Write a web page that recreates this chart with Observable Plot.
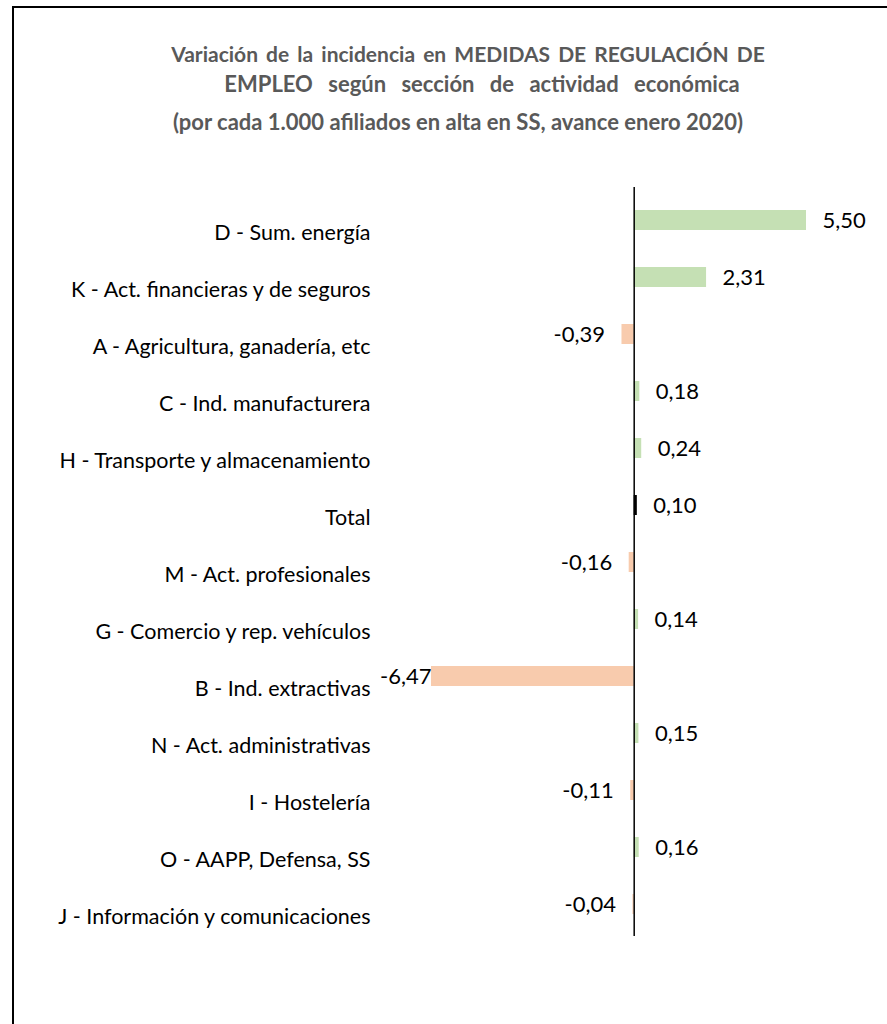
<!DOCTYPE html>
<html><head><meta charset="utf-8">
<script src="https://cdn.jsdelivr.net/npm/d3@7"></script>
<script src="https://cdn.jsdelivr.net/npm/@observablehq/plot@0.6"></script>
<style>
html,body{margin:0;padding:0;background:#fff;}
#wrap{position:relative;width:887px;height:1024px;overflow:hidden;font-family:Lato,"Open Sans",sans-serif;}
#frame{position:absolute;left:12px;top:6px;width:900px;height:1100px;border-left:2px solid #000;border-top:2px solid #000;}
#title{position:relative;height:150px;color:#595959;font-weight:bold;}
#title div{position:absolute;white-space:nowrap;transform:translate(-50%,-50%);line-height:1;}
#t1{left:468px;top:53px;font-size:21px;word-spacing:3px;}
#t2{left:482px;top:84px;font-size:22px;word-spacing:10px;}
#t3{left:458px;top:122px;font-size:22px;}
#chart{position:relative;}
</style></head>
<body><div id="wrap"><div id="frame"></div>
<div id="title"><div id="t1">Variación de la incidencia en MEDIDAS DE REGULACIÓN DE</div>
<div id="t2">EMPLEO según sección de actividad económica</div>
<div id="t3">(por cada 1.000 afiliados en alta en SS, avance enero 2020)</div></div>
<div id="chart"></div></div>
<script>
const categories = [
  "D - Sum. energía",
  "K - Act. financieras y de seguros",
  "A - Agricultura, ganadería, etc",
  "C - Ind. manufacturera",
  "H - Transporte y almacenamiento",
  "Total",
  "M - Act. profesionales",
  "G - Comercio y rep. vehículos",
  "B - Ind. extractivas",
  "N - Act. administrativas",
  "I - Hostelería",
  "O - AAPP, Defensa, SS",
  "J - Información y comunicaciones"
];
const values = [5.50, 2.31, -0.39, 0.18, 0.24, 0.10, -0.16, 0.14, -6.47, 0.15, -0.11, 0.16, -0.04];

const data = categories.map((c, i) => ({cat: c, value: values[i]}));
const fmt = v => v.toFixed(2).replace(".", ",");
const minV = d3.min(values), maxV = d3.max(values);
const fillOf = d => d.cat === "Total" ? "#000000" : d.value >= 0 ? "#C5E0B4" : "#F8CBAD";

const chart = Plot.plot({
  width: 887,
  height: 874,
  marginTop: 37,
  marginBottom: 88,
  marginLeft: 431,
  marginRight: 81,
  style: {fontFamily: "Lato, 'Open Sans', sans-serif", color: "#000", background: "transparent"},
  x: {domain: [minV, maxV], axis: null},
  y: {domain: categories, paddingInner: 0.65, paddingOuter: 0.35, label: null},
  marks: [
    Plot.barX(data, {y: "cat", x: "value", fill: fillOf, inset: 0}),
    Plot.ruleX([0], {stroke: "#000", strokeWidth: 1.5}),
    Plot.axisY({tickSize: 0, tickPadding: 61, dy: 13, fontSize: 21.5, fill: "#000", label: null}),
    Plot.text(data.filter(d => d.value >= 0), {y: "cat", x: "value", text: d => fmt(d.value), textAnchor: "start", dx: 16, fontSize: 22, fill: "#000"}),
    Plot.text(data.filter(d => d.value < 0 && d.value > minV), {y: "cat", x: "value", text: d => fmt(d.value), textAnchor: "end", dx: -17, fontSize: 22, fill: "#000"}),
    Plot.text(data.filter(d => d.value === minV), {y: "cat", x: "value", text: d => fmt(d.value), textAnchor: "end", dx: 0, fontSize: 22, fill: "#000"})
  ]
});
document.getElementById("chart").appendChild(chart);
</script></body></html>
